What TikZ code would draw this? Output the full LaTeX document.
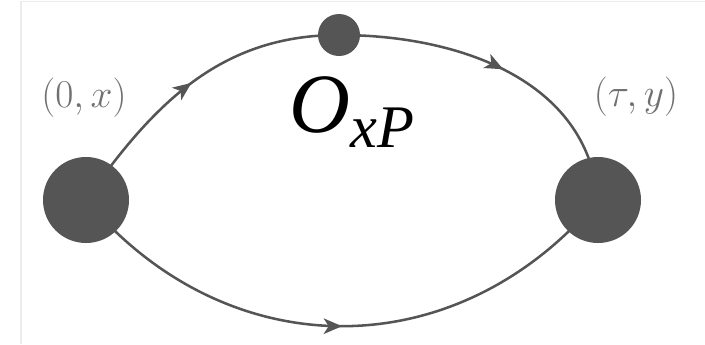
\RequirePackage{fix-cm}
\documentclass[tikz,border=0pt]{standalone}
\usepackage{fontspec}
\usetikzlibrary{arrows.meta, decorations.markings}
\newfontfamily\opfont{Liberation Serif}
\definecolor{blob}{RGB}{85,85,85}
\definecolor{label}{RGB}{112,112,112}
\definecolor{frame}{RGB}{236,236,236}

\begin{document}
\begin{tikzpicture}[x=0.025cm, y=-0.025cm,
  vertex/.style={circle, fill=blob, inner sep=0pt, minimum size=2.15cm},
  insert/.style={circle, fill=blob, inner sep=0pt, minimum size=1.05cm},
  prop/.style={draw=blob, line width=1.8pt, postaction={decorate},
    decoration={markings, mark=at position 0.5 with {\arrow{Stealth[length=13pt, width=11pt, inset=3.5pt]}}}},
  coord/.style={text=label, inner sep=0pt, font=\fontsize{28}{32}\selectfont}]
  \useasboundingbox (0,0) rectangle (705,344);
  \draw[frame, line width=0.8pt] (21,344) -- (21,1.5) -- (705,1.5);

  % vertices and the inserted operator
  \node[vertex] (x0) at (86,200) {};
  \node[vertex] (yt) at (598,200) {};
  \node[insert] (op) at (339,35) {};

  % propagators
  \draw[prop] (x0.center) to[out=55, in=180] (op.center);
  \draw[prop] (op.center) to[out=0, in=95] (yt.center);
  \draw[prop] (x0.center) to[out=-50, in=-130, looseness=1.1] (yt.center);

  \node[coord] (xlbl) at (84,98) {$(0,x)$};
  \node[coord] (ylbl) at (636,97) {$(\tau,y)$};
  \node[anchor=base west, inner sep=0pt] (oplbl) at (289,132)
    {\opfont\itshape\fontsize{60}{64}\selectfont O\raisebox{-11pt}{\fontsize{43}{46}\selectfont xP}};
\end{tikzpicture}
\end{document}
